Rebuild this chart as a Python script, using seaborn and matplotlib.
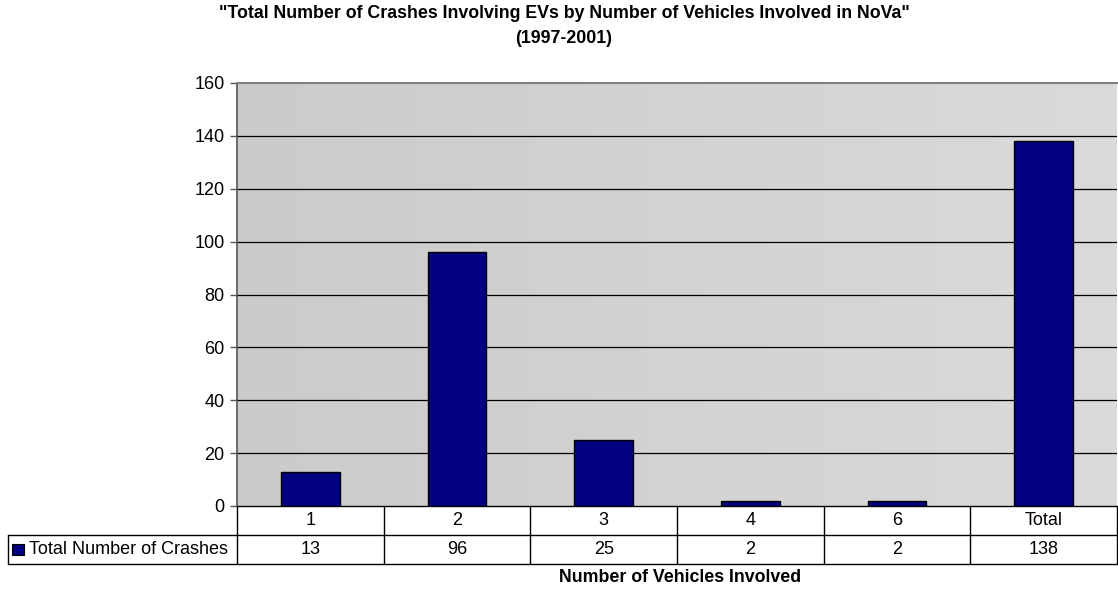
import matplotlib
matplotlib.use("Agg")
import matplotlib.pyplot as plt
import seaborn as sns
import numpy as np
import pandas as pd
from matplotlib.transforms import blended_transform_factory
from matplotlib.lines import Line2D
from matplotlib.patches import Rectangle
from matplotlib.colors import LinearSegmentedColormap

# ---- data ----
categories = ["1", "2", "3", "4", "6", "Total"]
crashes = [13, 96, 25, 2, 2, 138]
series_name = "Total Number of Crashes"
title_text = '"Total Number of Crashes Involving EVs by Number of Vehicles Involved in NoVa"\n(1997-2001)'
xlabel_text = "Number of Vehicles Involved"
yticks = [0, 20, 40, 60, 80, 100, 120, 140, 160]

sns.set_theme(style="white")
plt.rcParams['font.family'] = ['Liberation Sans', 'DejaVu Sans']
plt.rcParams['text.color'] = 'black'

FS = 13
W, H = 1118, 589
fig = plt.figure(figsize=(W / 100, H / 100), dpi=100)
L, R, T, B = 237, 1117, 83, 506
ax = fig.add_axes([L / W, 1 - B / H, (R - L) / W, (B - T) / H])

# gradient background
grad = np.linspace(0, 1, 256).reshape(1, -1)
cmap = LinearSegmentedColormap.from_list("bg", ["#cbcbcb", "#dadada"])
ax.imshow(grad, extent=[0, 1, 0, 1], transform=ax.transAxes, aspect="auto",
          cmap=cmap, zorder=0, interpolation="bicubic")

df = pd.DataFrame({"cat": categories, "val": crashes})
sns.barplot(data=df, x="cat", y="val", color="#000080", width=0.4,
            edgecolor="black", linewidth=1, saturation=1, ax=ax, zorder=3)

ax.set_xlim(-0.5, len(categories) - 0.5)
ax.set_ylim(0, 160)
ax.set_yticks(yticks)
ax.set_yticklabels([str(v) for v in yticks], fontsize=FS)
ax.set_xticks([])
ax.set_xlabel("")
ax.set_ylabel("")
for v in yticks[1:-1]:
    ax.axhline(v, color="black", lw=0.9, zorder=1)
ax.tick_params(axis="y", which="both", left=True, length=5, width=1,
               color="#555555", pad=4, labelcolor="black")
ax.spines["left"].set_color("#555555")
ax.spines["left"].set_linewidth(1.2)
ax.spines["top"].set_color("#808080")
ax.spines["top"].set_linewidth(1.5)
ax.spines["right"].set_visible(False)
ax.spines["bottom"].set_color("black")
ax.spines["bottom"].set_linewidth(1)

# ---- data table ----
row_h = 29 / (B - T)
trans = blended_transform_factory(ax.transData, ax.transAxes)
ftrans = blended_transform_factory(fig.transFigure, ax.transAxes)
n = len(categories)
lc = "black"
for k in (1, 2):
    ax.add_line(Line2D([8 / W, 1.0], [-k * row_h, -k * row_h], transform=ftrans,
                       color=lc, lw=1, clip_on=False))
for i in range(n + 1):
    ax.add_line(Line2D([i - 0.5, i - 0.5], [0, -2 * row_h], transform=trans,
                       color=lc, lw=1, clip_on=False))
ax.add_line(Line2D([8 / W, 8 / W], [-row_h, -2 * row_h], transform=ftrans,
                   color=lc, lw=1, clip_on=False))
for i, (c, v) in enumerate(zip(categories, crashes)):
    ax.text(i, -0.5 * row_h, c, transform=trans, ha="center", va="center",
            fontsize=FS, color="black")
    ax.text(i, -1.5 * row_h, str(v), transform=trans, ha="center", va="center",
            fontsize=FS, color="black")
# legend key
ax.add_patch(Rectangle((12 / W, -1.5 * row_h - 5.5 / (B - T)), 12 / W, 11 / (B - T),
                       transform=ftrans, facecolor="#000080", edgecolor="black",
                       lw=0.8, clip_on=False))
ax.text(29 / W, -1.5 * row_h, series_name, transform=ftrans, ha="left",
        va="center", fontsize=FS, color="black")

fig.text(680 / W, 1 - 578 / H, xlabel_text, ha="center", va="center",
         fontsize=12.8, fontweight="bold", color="black")
fig.text(564 / W, 1 - 26 / H, title_text, ha="center", va="center",
         fontsize=12.8, fontweight="bold", linespacing=1.55, color="black")

fig.savefig("out.png", dpi=100)
